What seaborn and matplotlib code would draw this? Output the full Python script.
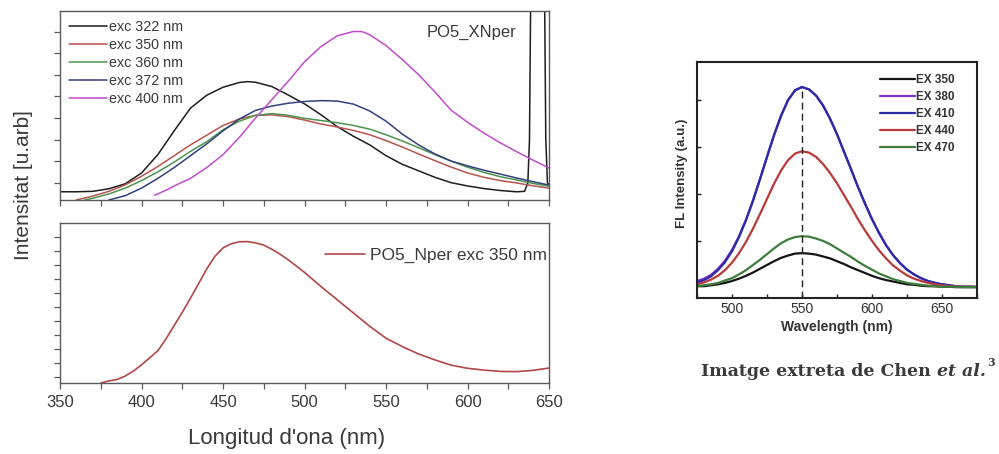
import matplotlib
matplotlib.use("Agg")
import matplotlib.pyplot as plt
import seaborn as sns
from matplotlib.ticker import MultipleLocator, FixedLocator

sns.set_theme(style="white")
plt.rcParams['font.family'] = ['Liberation Sans', 'DejaVu Sans']

# ---------------- Left top panel: PO5_XNper ----------------
exc322_x = [350, 360, 370, 380, 390, 400, 410, 420, 430, 440, 450, 460, 465, 470, 480, 490, 500,
            510, 520, 530, 540, 550, 560, 570, 580, 590, 600, 610, 620, 630, 635, 637, 638, 639,
            647, 648, 649, 650]
exc322_y = [0.58, 0.58, 0.60, 0.72, 0.95, 1.45, 2.3, 3.4, 4.45, 5.05, 5.42, 5.64, 5.68, 5.65, 5.45,
            5.06, 4.65, 4.15, 3.6, 3.15, 2.75, 2.25, 1.85, 1.55, 1.25, 1.0, 0.85, 0.73, 0.64, 0.58,
            0.6, 1.0, 3.0, 12.0, 12.0, 3.0, 1.0, 0.9]

exc350_x = [360, 370, 380, 390, 400, 410, 420, 430, 440, 450, 460, 470, 480, 490, 500, 510, 520,
            530, 540, 550, 560, 570, 580, 590, 600, 610, 620, 630, 640, 650]
exc350_y = [0.2, 0.38, 0.6, 0.9, 1.3, 1.75, 2.25, 2.75, 3.2, 3.65, 3.95, 4.12, 4.14, 4.06, 3.9,
            3.72, 3.58, 3.42, 3.22, 2.95, 2.65, 2.33, 2.02, 1.72, 1.45, 1.25, 1.1, 0.99, 0.86, 0.75]

exc360_x = [365, 370, 380, 390, 400, 410, 420, 430, 440, 450, 460, 470, 480, 490, 500, 510, 520,
            530, 540, 550, 560, 570, 580, 590, 600, 610, 620, 630, 640, 650]
exc360_y = [0.2, 0.28, 0.48, 0.75, 1.1, 1.5, 1.95, 2.45, 2.9, 3.45, 3.85, 4.12, 4.2, 4.12, 3.98,
            3.88, 3.78, 3.65, 3.48, 3.22, 2.93, 2.62, 2.3, 2.0, 1.72, 1.48, 1.28, 1.13, 0.97, 0.84]

exc372_x = [380, 390, 400, 410, 420, 430, 440, 450, 460, 470, 480, 490, 500, 510, 520, 530, 540,
            550, 560, 570, 580, 590, 600, 610, 620, 630, 640, 650]
exc372_y = [0.2, 0.4, 0.75, 1.2, 1.7, 2.25, 2.8, 3.4, 3.95, 4.35, 4.55, 4.68, 4.76, 4.8, 4.78,
            4.64, 4.32, 3.85, 3.25, 2.75, 2.33, 2.0, 1.78, 1.58, 1.4, 1.22, 1.05, 0.89]

exc400_x = [408, 415, 420, 430, 440, 450, 460, 470, 480, 490, 500, 510, 520, 530, 535, 540, 550,
            560, 570, 580, 590, 600, 610, 620, 630, 640, 650]
exc400_y = [0.42, 0.65, 0.85, 1.2, 1.7, 2.3, 3.1, 4.0, 4.85, 5.7, 6.6, 7.3, 7.8, 8.0, 8.0, 7.85,
            7.35, 6.7, 6.0, 5.2, 4.35, 3.8, 3.3, 2.85, 2.44, 2.05, 1.68]

top_series = [
    ("exc 322 nm", exc322_x, exc322_y, "#1e1e1e"),
    ("exc 350 nm", exc350_x, exc350_y, "#b8554c"),
    ("exc 360 nm", exc360_x, exc360_y, "#4c9450"),
    ("exc 372 nm", exc372_x, exc372_y, "#33407e"),
    ("exc 400 nm", exc400_x, exc400_y, "#c04ccc"),
]

# ---------------- Left bottom panel: PO5_Nper ----------------
nper_x = [375, 380, 385, 390, 395, 400, 405, 410, 415, 420, 425, 430, 435, 440, 445, 450, 455, 460,
          465, 470, 475, 480, 485, 490, 500, 510, 520, 530, 540, 550, 560, 570, 580, 590, 600, 610,
          620, 630, 640, 650]
nper_y = [-0.45, -0.3, -0.2, 0.05, 0.4, 0.85, 1.35, 1.85, 2.7, 3.65, 4.6, 5.6, 6.65, 7.7, 8.6, 9.2,
          9.5, 9.64, 9.65, 9.56, 9.4, 9.1, 8.75, 8.35, 7.45, 6.45, 5.5, 4.55, 3.6, 2.75, 2.15, 1.62,
          1.2, 0.82, 0.6, 0.47, 0.38, 0.36, 0.45, 0.62]

# ---------------- Right panel: Chen et al. ----------------
chen_x = [475, 480, 485, 490, 495, 500, 505, 510, 515, 520, 525, 530, 535, 540, 545, 550, 555, 560,
          565, 570, 575, 580, 585, 590, 595, 600, 605, 610, 615, 620, 625, 630, 635, 640, 645, 650,
          655, 660, 665, 670, 675]
ex350 = [0.05, 0.05, 0.07, 0.09, 0.12, 0.16, 0.21, 0.27, 0.34, 0.42, 0.50, 0.58, 0.65, 0.70, 0.74,
         0.75, 0.74, 0.72, 0.68, 0.64, 0.58, 0.52, 0.45, 0.39, 0.33, 0.27, 0.22, 0.18, 0.15, 0.12,
         0.09, 0.08, 0.06, 0.05, 0.05, 0.04, 0.04, 0.03, 0.03, 0.03, 0.03]
ex380 = [0.16, 0.21, 0.29, 0.42, 0.59, 0.82, 1.11, 1.46, 1.87, 2.32, 2.79, 3.25, 3.66, 3.99, 4.20,
         4.27, 4.22, 4.09, 3.88, 3.60, 3.27, 2.90, 2.53, 2.15, 1.80, 1.47, 1.18, 0.92, 0.71, 0.54,
         0.40, 0.30, 0.22, 0.16, 0.12, 0.09, 0.07, 0.05, 0.04, 0.04, 0.035]
ex410 = [0.12, 0.18, 0.26, 0.39, 0.56, 0.79, 1.09, 1.45, 1.86, 2.32, 2.79, 3.25, 3.66, 3.99, 4.20,
         4.27, 4.22, 4.09, 3.88, 3.60, 3.27, 2.90, 2.53, 2.15, 1.80, 1.47, 1.18, 0.92, 0.71, 0.54,
         0.40, 0.30, 0.22, 0.16, 0.12, 0.09, 0.07, 0.05, 0.04, 0.04, 0.035]
ex440 = [0.09, 0.13, 0.19, 0.27, 0.39, 0.55, 0.75, 0.99, 1.27, 1.58, 1.90, 2.22, 2.50, 2.72, 2.86,
         2.91, 2.88, 2.79, 2.64, 2.45, 2.23, 1.98, 1.73, 1.47, 1.23, 1.01, 0.81, 0.64, 0.49, 0.38,
         0.28, 0.21, 0.16, 0.12, 0.09, 0.07, 0.05, 0.04, 0.04, 0.04, 0.03]
ex470 = [0.05, 0.07, 0.09, 0.12, 0.17, 0.22, 0.30, 0.39, 0.50, 0.61, 0.73, 0.85, 0.96, 1.04, 1.09,
         1.11, 1.10, 1.06, 1.01, 0.94, 0.85, 0.76, 0.67, 0.57, 0.48, 0.40, 0.32, 0.26, 0.20, 0.16,
         0.12, 0.10, 0.08, 0.06, 0.05, 0.04, 0.04, 0.04, 0.03, 0.03, 0.03]
chen_series = [
    ("EX 350", ex350, "#141414"),
    ("EX 380", ex380, "#7a35c8"),
    ("EX 410", ex410, "#2b2ba6"),
    ("EX 440", ex440, "#b83a3a"),
    ("EX 470", ex470, "#3f7d3f"),
]
peak_nm = 550

# ---------------- Figure ----------------
fig = plt.figure(figsize=(9.99, 4.54), dpi=100)
fig.patch.set_facecolor("white")
ax1 = fig.add_axes([0.0601, 0.5595, 0.4895, 0.4163])
ax2 = fig.add_axes([0.0601, 0.1564, 0.4895, 0.3524])
ax3 = fig.add_axes([0.6977, 0.3436, 0.2803, 0.5198])

for name, xs, ys, c in top_series:
    sns.lineplot(x=xs, y=ys, ax=ax1, color=c, lw=1.1, label=name, estimator=None, sort=False)
sns.lineplot(x=nper_x, y=nper_y, ax=ax2, color="#b04848", lw=1.2, label="PO5_Nper exc 350 nm",
             estimator=None, sort=False)

gray = "#5a5a5a"
for ax in (ax1, ax2):
    ax.set_facecolor("white")
    ax.set_xlim(350, 650)
    ax.xaxis.set_major_locator(MultipleLocator(50))
    ax.xaxis.set_minor_locator(MultipleLocator(25))
    for s in ax.spines.values():
        s.set_color(gray)
        s.set_linewidth(1.0)
    ax.tick_params(axis="both", which="both", direction="out", length=4, width=0.9,
                   color=gray, left=True, bottom=True)
    ax.set_xlabel("")
    ax.set_ylabel("")

ax1.set_ylim(0.2, 8.95)
ax1.yaxis.set_major_locator(FixedLocator([1, 2, 3, 4, 5, 6, 7, 8]))
ax1.set_yticklabels([])
ax1.tick_params(axis="x", labelbottom=False)

ax2.set_ylim(-0.45, 10.98)
ax2.yaxis.set_major_locator(FixedLocator(list(range(0, 11))))
ax2.set_yticklabels([])
ax2.tick_params(axis="x", labelsize=12, labelcolor="#3a3a3a", pad=5)

leg1 = ax1.legend(loc="upper left", bbox_to_anchor=(0.0, 1.0), frameon=False, fontsize=10.3,
                  handlelength=2.6, handletextpad=0.15, labelspacing=0.28, borderpad=0.35,
                  borderaxespad=0.3)
for t in leg1.get_texts():
    t.set_color("#3a3a3a")
ax1.text(0.8415, 0.885, "PO5_XNper", transform=ax1.transAxes, ha="center", va="center",
         fontsize=12, color="#3a3a3a")

leg2 = ax2.legend(loc="upper right", bbox_to_anchor=(1.025, 0.93), frameon=False, fontsize=12.5,
                  handlelength=2.3, handletextpad=0.3, borderpad=0.3)
for t in leg2.get_texts():
    t.set_color("#3a3a3a")

fig.text(0.0235, 0.5925, "Intensitat [u.arb]", rotation=90, ha="center", va="center",
         fontsize=15, color="#3a3a3a")
fig.text(0.2873, 0.0352, "Longitud d'ona (nm)", ha="center", va="center", fontsize=16,
         color="#3a3a3a")

# Right panel
for name, ys, c in chen_series:
    sns.lineplot(x=chen_x, y=ys, ax=ax3, color=c, lw=1.6, label=name, estimator=None, sort=False)
ax3.set_xlim(475, 675)
ax3.set_ylim(-0.2, 4.8)
ax3.vlines(peak_nm, -0.2, max(ex410), colors="#222222", linestyles=(0, (5, 3)), lw=1.0)
ax3.set_facecolor("white")
for s in ax3.spines.values():
    s.set_color("#222222")
    s.set_linewidth(1.5)
ax3.xaxis.set_major_locator(FixedLocator([500, 550, 600, 650]))
ax3.xaxis.set_minor_locator(MultipleLocator(25))
ax3.yaxis.set_major_locator(FixedLocator([1, 2, 3, 4]))
ax3.set_yticklabels([])
ax3.tick_params(axis="both", which="both", direction="in", length=3, width=1.0, color="#222222",
                left=True, bottom=True)
ax3.tick_params(axis="x", labelsize=10, labelcolor="#333333", pad=3)
ax3.set_xlabel("")
ax3.set_ylabel("")
leg3 = ax3.legend(loc="upper right", bbox_to_anchor=(0.955, 0.99), frameon=False,
                  prop={"size": 8.5, "weight": "bold"}, handlelength=2.9, handletextpad=0.15,
                  labelspacing=0.42, borderpad=0.3)
for t in leg3.get_texts():
    t.set_color("#333333")
fig.text(0.6827, 0.619, "FL Intensity (a.u.)", rotation=90, ha="center", va="center",
         fontsize=9.5, fontweight="bold", color="#333333")
fig.text(0.8378, 0.2797, "Wavelength (nm)", ha="center", va="center", fontsize=10,
         fontweight="bold", color="#333333")

# Caption: regular part, italic part, superscript, placed one after another
cap_kw = dict(fontweight="bold", family=["DejaVu Serif"], color="#3a3a3a", va="baseline",
              ha="left")
cap_y = 0.172
cap1 = fig.text(0.7017, cap_y, "Imatge extreta de Chen ", fontsize=12.5, **cap_kw)
fig.canvas.draw()
r = fig.canvas.get_renderer()
x1 = fig.transFigure.inverted().transform((cap1.get_window_extent(r).x1, 0))[0]
cap2 = fig.text(x1, cap_y, "et al.", fontsize=12.5, fontstyle="italic", **cap_kw)
fig.canvas.draw()
x2 = fig.transFigure.inverted().transform((cap2.get_window_extent(r).x1, 0))[0]
fig.text(x2 + 0.002, cap_y + 0.022, "3", fontsize=8, **cap_kw)

fig.savefig("out.png", dpi=100, facecolor="white")
